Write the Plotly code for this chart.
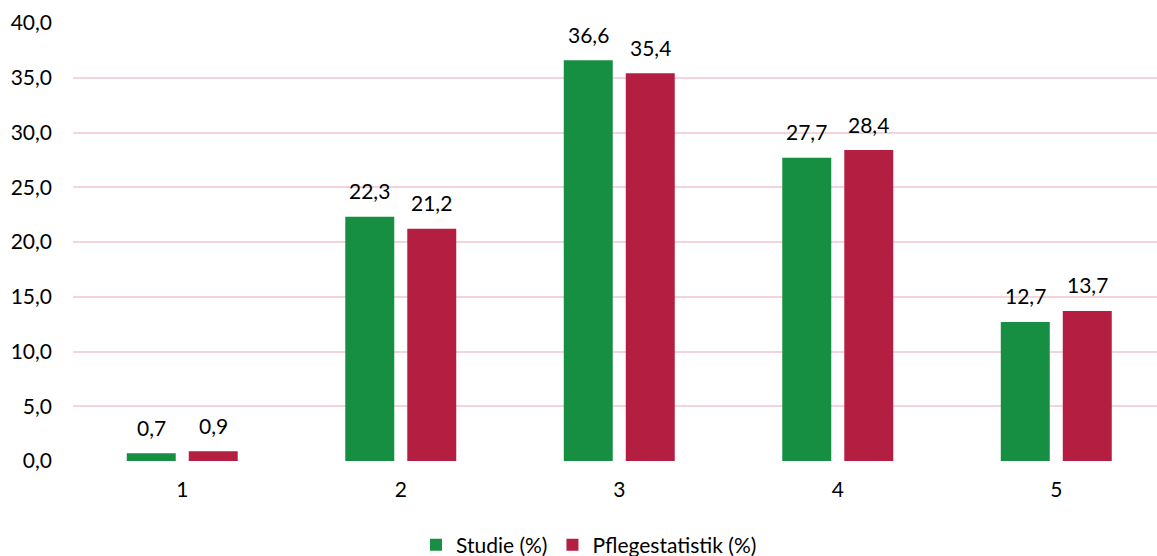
import plotly.graph_objects as go

categories = ["1", "2", "3", "4", "5"]
studie = [0.7, 22.3, 36.6, 27.7, 12.7]
pflege = [0.9, 21.2, 35.4, 28.4, 13.7]
series_names = ["Studie (%)", "Pflegestatistik (%)"]
y_ticks = [0, 5, 10, 15, 20, 25, 30, 35, 40]

GREEN = "#178F42"
RED = "#B41F41"
FONT = "Lato"
FS = 21

def fmt(v):
    return f"{v:.1f}".replace(".", ",")

xpos = list(range(len(categories)))

fig = go.Figure()
fig.add_trace(go.Bar(x=xpos, y=studie, name=series_names[0], marker_color=GREEN,
                     marker_line_width=0))
fig.add_trace(go.Bar(x=xpos, y=pflege, name=series_names[1], marker_color=RED,
                     marker_line_width=0))

annotations = []
for i in xpos:
    for vals, shift in ((studie, -31), (pflege, 31)):
        annotations.append(dict(x=i, y=vals[i], text=fmt(vals[i]), xref="x", yref="y",
                                xshift=shift, yshift=26, yanchor="middle",
                                showarrow=False, font=dict(family=FONT, size=FS, color="#000000")))

fig.update_layout(
    width=1157, height=556,
    margin=dict(l=73, r=0, t=23, b=95, autoexpand=False),
    paper_bgcolor="white", plot_bgcolor="white",
    barmode="group", bargap=0.4325, bargroupgap=0.21,
    font=dict(family=FONT, size=FS, color="#000000"),
    annotations=annotations,
    showlegend=True,
    legend=dict(orientation="h", x=0.476, xanchor="center",
                y=(556 - 545) / 556, yref="container", yanchor="middle",
                font=dict(family=FONT, size=FS, color="#000000"),
                traceorder="normal"),
    xaxis=dict(range=[-0.5, 4.461], tickmode="array", tickvals=xpos, ticktext=categories,
               showgrid=False, zeroline=False, showline=False, ticks="", automargin=False,
               ticklabelstandoff=14, tickfont=dict(family=FONT, size=FS, color="#000000")),
    yaxis=dict(range=[0, 40], tickmode="array", tickvals=y_ticks,
               ticktext=[fmt(v) for v in y_ticks], automargin=False,
               showgrid=True, gridcolor="#F4D3DA", gridwidth=1.6,
               zeroline=False, showline=False, ticks="",
               ticklabelstandoff=20, tickfont=dict(family=FONT, size=FS, color="#000000")),
)

fig.write_html("out.html", config={"displayModeBar": False},
               post_script="document.body.style.margin='0';document.body.style.overflow='hidden';")
